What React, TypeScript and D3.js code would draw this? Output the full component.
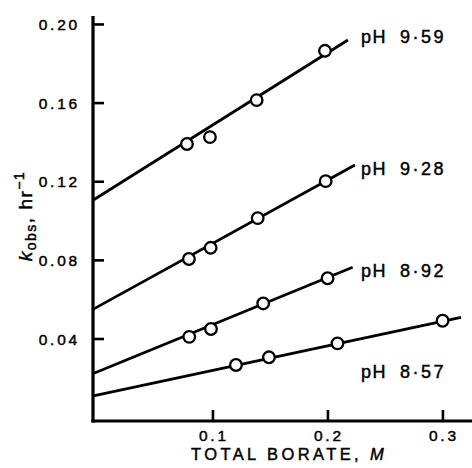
import React from "react";
import * as d3 from "d3";

const seriesNames = ["9·59", "9·28", "8·92", "8·57"];
const pointsX = [
  [0.0774, 0.0974, 0.138, 0.1974],
  [0.0791, 0.098, 0.1389, 0.198],
  [0.0794, 0.0983, 0.1437, 0.1997],
  [0.12, 0.1487, 0.2083, 0.2997],
];
const pointsY = [
  [0.1392, 0.1427, 0.1615, 0.1866],
  [0.0807, 0.0864, 0.1015, 0.1203],
  [0.0411, 0.0451, 0.0581, 0.0709],
  [0.0268, 0.0307, 0.0378, 0.0493],
];
const lineStartX = [-0.004, -0.004, -0.004, -0.004];
const lineStartY = [0.1107, 0.0552, 0.0225, 0.0111];
const lineEndX = [0.2174, 0.2235, 0.2215, 0.3157];
const lineEndY = [0.1921, 0.1285, 0.0765, 0.051];
const labelY = [0.1904, 0.1235, 0.0717, 0.0201];
const xTicks = [0.1, 0.2, 0.3];
const xTickLabels = ["0.1", "0.2", "0.3"];
const yTicks = [0.04, 0.08, 0.12, 0.16, 0.2];
const yTickLabels = ["0.04", "0.08", "0.12", "0.16", "0.20"];

const FONT = "'Liberation Sans', Arial, Helvetica, sans-serif";
const heavy = { stroke: "#000", strokeWidth: 0.45 };

export default function App() {
  const x = d3.scaleLinear().domain([-0.0043, 0.3257]).range([93, 472.5]);
  const y = d3.scaleLinear().domain([-0.0017, 0.2043]).range([421, 16]);
  const line = d3
    .line<[number, number]>()
    .x((d) => x(d[0]))
    .y((d) => y(d[1]));
  const x0 = x.range()[0];
  const y0 = y.range()[0];
  return (
    <svg
      width={472}
      height={468}
      style={{ position: "absolute", left: 0, top: 0, background: "#fff" }}
      fontFamily={FONT}
    >
      <rect width={472} height={468} fill="#fff" />
      <line x1={x0} y1={y.range()[1]} x2={x0} y2={y0 + 1.5} stroke="#000" strokeWidth={3.2} />
      <line x1={x0 - 1.6} y1={y0} x2={472} y2={y0} stroke="#000" strokeWidth={3.2} />
      {yTicks.map((t, i) => (
        <g key={"yt" + i}>
          <line x1={x0} x2={x0 + 11} y1={y(t)} y2={y(t)} stroke="#000" strokeWidth={2.6} />
          <text
            x={80}
            y={y(t)}
            dy="0.36em"
            textAnchor="end"
            fontSize={15.5}
            letterSpacing={2.8}
            fill="#000"
            {...heavy}
          >
            {yTickLabels[i]}
          </text>
        </g>
      ))}
      {xTicks.map((t, i) => (
        <g key={"xt" + i}>
          <line x1={x(t)} x2={x(t)} y1={y0} y2={y0 - 11} stroke="#000" strokeWidth={2.6} />
          <text
            x={x(t) + 1}
            y={441}
            textAnchor="middle"
            fontSize={15.5}
            letterSpacing={2.8}
            fill="#000"
            {...heavy}
          >
            {xTickLabels[i]}
          </text>
        </g>
      ))}
      <text x={191} y={460} fontSize={16.5} letterSpacing={3.4} fill="#000" {...heavy}>
        TOTAL BORATE, <tspan fontStyle="italic">M</tspan>
      </text>
      <text
        transform="translate(32,216) rotate(-90)"
        textAnchor="middle"
        fontSize={19}
        letterSpacing={1.5}
        fill="#000"
        {...heavy}
      >
        <tspan fontStyle="italic">k</tspan>
        <tspan fontSize={14} dy={4}>obs</tspan>
        <tspan dy={-4}>, hr</tspan>
        <tspan fontSize={14} dy={-8}>−1</tspan>
      </text>
      {seriesNames.map((name, s) => (
        <g key={"s" + s}>
          <path
            d={line([
              [lineStartX[s], lineStartY[s]],
              [lineEndX[s], lineEndY[s]],
            ]) as string}
            fill="none"
            stroke="#000"
            strokeWidth={2.8}
          />
          {pointsX[s].map((px, j) => (
            <circle
              key={j}
              cx={x(px)}
              cy={y(pointsY[s][j])}
              r={5.8}
              fill="#fff"
              stroke="#000"
              strokeWidth={2.3}
            />
          ))}
          <text x={361} y={y(labelY[s])} fontSize={18} letterSpacing={1.5} fill="#000" {...heavy}>
            pH
          </text>
          <text x={400} y={y(labelY[s])} fontSize={18} letterSpacing={2.5} fill="#000" {...heavy}>
            {name}
          </text>
        </g>
      ))}
    </svg>
  );
}
